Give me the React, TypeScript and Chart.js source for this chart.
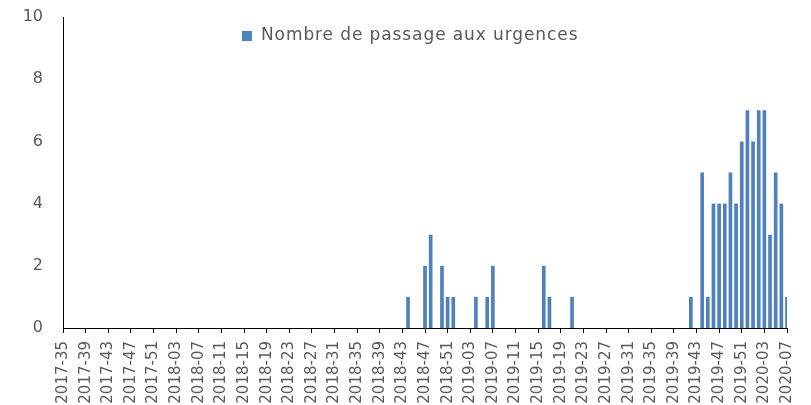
import React, { useEffect, useRef } from "react";
import { Chart, registerables } from "chart.js";

Chart.register(...registerables);

// Week categories 2017-35 .. 2020-07 (ISO weeks; 2017, 2018, 2019 have 52 weeks)
const weeks2017 = ["35","36","37","38","39","40","41","42","43","44","45","46","47","48","49","50","51","52"];
const weeks2018 = ["01","02","03","04","05","06","07","08","09","10","11","12","13","14","15","16","17","18","19","20","21","22","23","24","25","26","27","28","29","30","31","32","33","34","35","36","37","38","39","40","41","42","43","44","45","46","47","48","49","50","51","52"];
const weeks2019 = weeks2018;
const weeks2020 = ["01","02","03","04","05","06","07"];

const categories: string[] = [
  ...weeks2017.map((w) => "2017-" + w),
  ...weeks2018.map((w) => "2018-" + w),
  ...weeks2019.map((w) => "2019-" + w),
  ...weeks2020.map((w) => "2020-" + w),
];

const seriesName = "Nombre de passage aux urgences";
const seriesColor = "#4F81BD";

// one value per week (129 weeks)
const passages: number[] = [
  // 2017-35 .. 2017-52
  0,0,0,0,0,0,0,0,0,0,0,0,0,0,0,0,0,0,
  // 2018-01 .. 2018-26
  0,0,0,0,0,0,0,0,0,0,0,0,0,0,0,0,0,0,0,0,0,0,0,0,0,0,
  // 2018-27 .. 2018-52
  0,0,0,0,0,0,0,0,0,0,0,0,0,0,0,0,0,1,0,0,2,3,0,2,1,1,
  // 2019-01 .. 2019-26
  0,0,0,1,0,1,2,0,0,0,0,0,0,0,0,2,1,0,0,0,1,0,0,0,0,0,
  // 2019-27 .. 2019-52
  0,0,0,0,0,0,0,0,0,0,0,0,0,0,0,1,0,5,1,4,4,4,5,4,6,7,
  // 2020-01 .. 2020-07
  6,7,7,3,5,4,1,
];

const yTicks = [0, 2, 4, 6, 8, 10];

// Legend drawn inside the plot area (as in the reference)
const insideLegend = {
  id: "insideLegend",
  afterDraw(chart: any) {
    const ctx = chart.ctx;
    ctx.save();
    ctx.fillStyle = seriesColor;
    ctx.fillRect(242, 31, 10, 10);
    ctx.fillStyle = "#595959";
    ctx.font = "17px 'DejaVu Sans'";
    if ("letterSpacing" in ctx) (ctx as any).letterSpacing = "0.9px";
    ctx.textBaseline = "middle";
    ctx.textAlign = "left";
    ctx.fillText(seriesName, 261, 36);
    ctx.restore();
  },
};

export default function App() {
  const ref = useRef<HTMLCanvasElement>(null);

  useEffect(() => {
    if (!ref.current) return;
    const chart = new Chart(ref.current, {
      type: "bar",
      data: {
        labels: categories,
        datasets: [
          {
            label: seriesName,
            data: passages,
            backgroundColor: seriesColor,
            borderWidth: 0,
            barPercentage: 0.65,
            categoryPercentage: 1,
          },
        ],
      },
      plugins: [insideLegend],
      options: {
        responsive: false,
        animation: false,
        layout: { padding: { top: 17, right: 24, bottom: 0, left: 0 } },
        plugins: {
          legend: { display: false },
          tooltip: { enabled: false },
        },
        scales: {
          x: {
            type: "category",
            offset: false,
            afterFit: (s: any) => {
              s.height = 77;
              s.paddingLeft = 0;
              s.paddingRight = 0;
              s.paddingTop = 0;
              s.paddingBottom = 0;
            },
            grid: {
              display: true,
              drawOnChartArea: false,
              drawTicks: true,
              tickLength: 5,
              color: "#000000",
              offset: false,
            },
            border: { display: true, color: "#000000", width: 1 },
            ticks: {
              autoSkip: false,
              minRotation: 90,
              maxRotation: 90,
              padding: 8,
              color: "#595959",
              font: { family: "DejaVu Sans", size: 15 },
              callback: function (this: any, value: any, index: number) {
                return index % 4 === 0 ? categories[index] : null;
              },
            },
          },
          y: {
            min: 0,
            max: 10,
            afterFit: (s: any) => {
              s.width = 63;
              s.paddingLeft = 0;
              s.paddingRight = 0;
              s.paddingTop = 0;
              s.paddingBottom = 0;
            },
            afterBuildTicks: (s: any) => {
              s.ticks = yTicks.map((v) => ({ value: v }));
            },
            grid: { display: false, drawTicks: false },
            border: { display: true, color: "#000000", width: 1 },
            ticks: {
              padding: 20,
              color: "#595959",
              font: { family: "DejaVu Sans", size: 16 },
            },
          },
        },
      },
    });
    return () => chart.destroy();
  }, []);

  return (
    <div style={{ position: "fixed", left: 0, top: 0, width: 811, height: 405, background: "#fff" }}>
      <canvas ref={ref} width={811} height={405} style={{ width: 811, height: 405 }} />
    </div>
  );
}
